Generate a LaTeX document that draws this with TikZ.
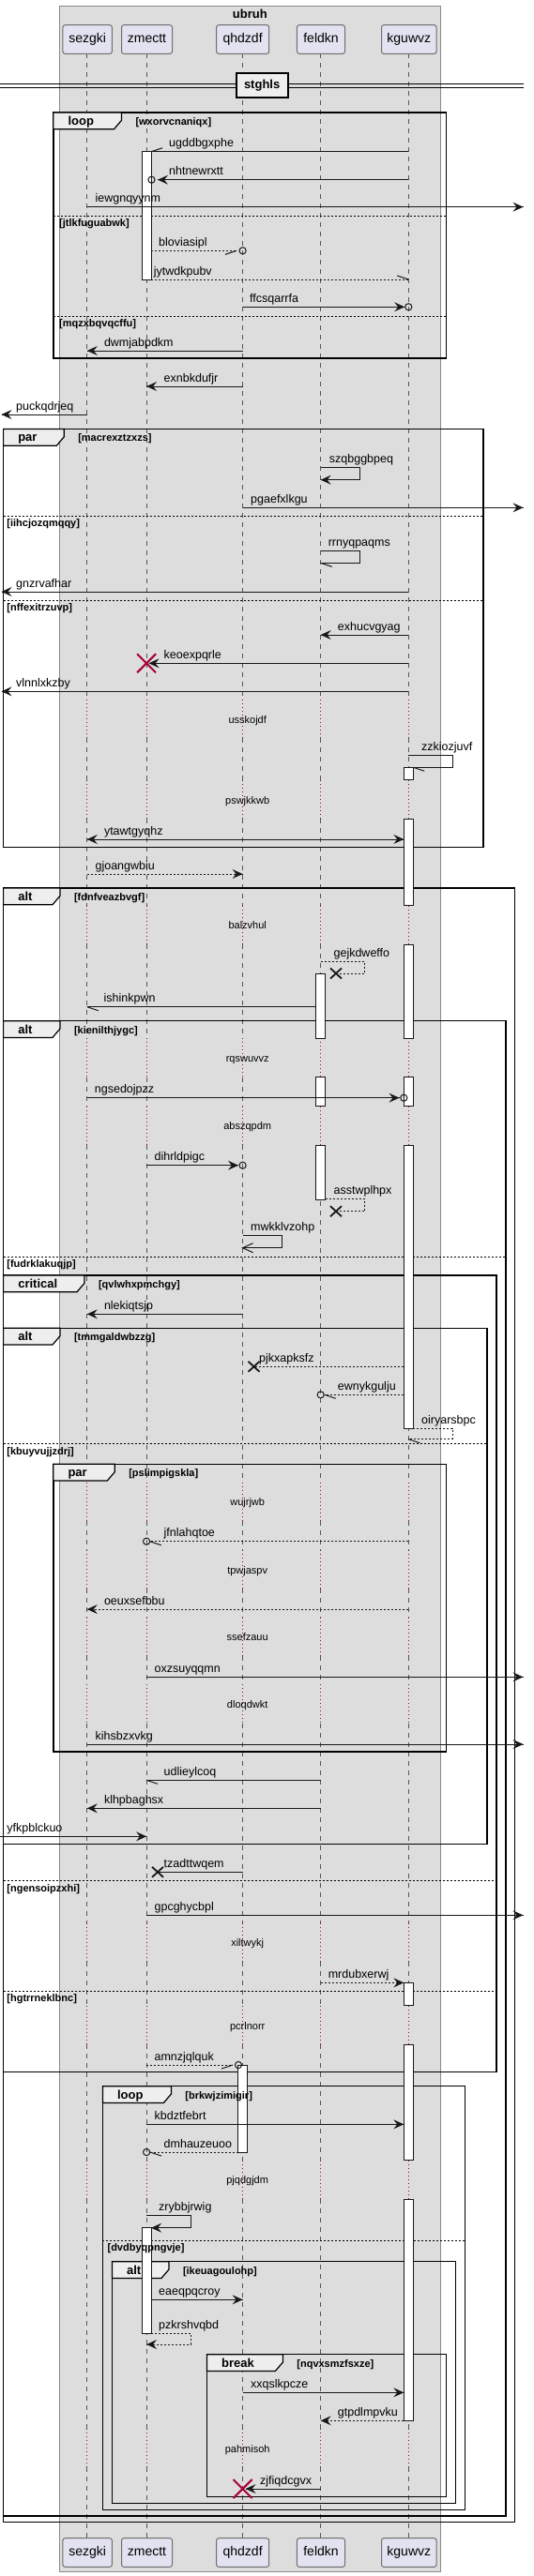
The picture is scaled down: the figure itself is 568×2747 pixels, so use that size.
\documentclass[tikz,border=0pt]{standalone}
\usepackage{fontspec}
\setmainfont{Liberation Sans}
\definecolor{ink}{HTML}{181818}
\definecolor{crim}{HTML}{A80036}
\definecolor{boxg}{HTML}{DDDDDD}
\definecolor{boxb}{HTML}{8A8A8A}
\definecolor{pfill}{HTML}{E2E2F0}
\definecolor{pbord}{HTML}{6E6E6E}
\definecolor{tabg}{HTML}{EEEEEE}
\definecolor{lifec}{HTML}{555555}
\tikzset{
  msg/.style={draw=ink, line width=1pt},
  dmsg/.style={msg, dash pattern=on 2pt off 2pt},
  lab/.style={font=\fontsize{12.5}{14}\selectfont, inner sep=0, anchor=base west},
  grd/.style={font=\bfseries\fontsize{11}{13}\selectfont, inner sep=0, anchor=base west},
  dlt/.style={font=\fontsize{11}{13}\selectfont, inner sep=0, anchor=base},
  tabt/.style={font=\bfseries\fontsize{13}{15}\selectfont, inner sep=0, anchor=base west},
  life/.style={draw=lifec, line width=0.8pt, dash pattern=on 5pt off 5pt},
  dly/.style={draw=crim, line width=0.9pt, dash pattern=on 1pt off 3pt},
  actb/.style={draw=ink, fill=white, line width=1pt},
  frm/.style={draw=black, line width=1.5pt},
  sepl/.style={draw=black, line width=0.8pt, dash pattern=on 2pt off 2pt},
  part/.style={draw=pbord, fill=pfill, rounded corners=2.5pt, line width=1pt,
    minimum height=30.6pt, inner sep=0, font=\fontsize{14}{16}\selectfont,
    text height=10pt, text depth=3pt}
}
% message helpers
\newcommand\MS[5]{\coordinate (#1a) at (#2,#4); \coordinate (#1b) at (#3,#4); \draw[#5] (#1a) -- (#1b);}
\newcommand\SM[7]{\coordinate (#1a) at (#2,#4); \coordinate (#1c) at (#3,#4); \coordinate (#1d) at (#3,#5); \coordinate (#1b) at (#6,#5); \draw[#7] (#1a) -- (#1c) -- (#1d) -- (#1b);}
\newcommand\ML[4]{\node[lab] (#1) at (#2,#3) {#4};}
\newcommand\HF[2]{\fill[ink] (#1) -- ++({-11*(#2)},-5) -- ++({4*(#2)},5) -- ++({-4*(#2)},5) -- cycle;}
\newcommand\HO[2]{\draw[ink,line width=1pt] (#1) ++({-11*(#2)},-5) -- (#1) -- ++({-11*(#2)},5);}
\newcommand\HH[3]{\draw[ink,line width=1pt] (#1) -- ++({-12*(#2)},{4*(#3)});}
\newcommand\CI[3]{\coordinate (#1) at (#2,#3); \draw[ink,line width=1pt] (#1) circle[radius=3.6pt];}
\newcommand\XS[1]{\draw[ink,line width=1.8pt] (#1) ++(-6,-5.5) -- ++(12,11) (#1) ++(-6,5.5) -- ++(12,-11);}
\newcommand\XR[3]{\coordinate (#1) at (#2,#3); \draw[crim,line width=2pt] (#1) ++(-10,-10) -- ++(20,20) (#1) ++(-10,10) -- ++(20,-20);}
\newcommand\DL[3]{\node[dlt] (#1) at (263.7,#2) {#3};}
% frame body: name x1 y1 x2 y2 tabR
\newcommand\FR[6]{%
  \draw[frm] (#2,#3) rectangle (#4,#5);
  \filldraw[fill=tabg, draw=black, line width=1.2pt] (#2,#3) -- (#6,#3) -- (#6,{#3+8.3}) -- ({#6-8},{#3+17.7}) -- (#2,{#3+17.7}) -- cycle;}
% frame texts: name x1 y1 tabR keyword guard
\newcommand\FT[6]{%
  \node[tabt] (#1k) at ({#2+15.5},{#3+13.3}) {#5};
  \node[grd] (#1g) at ({#4+14.8},{#3+13.3}) {#6};}
% separator line: name x1 x2 y ; label: name labelx y text
\newcommand\SP[4]{\coordinate (#1a) at (#2,#4); \coordinate (#1b) at (#3,#4); \draw[sepl] (#1a) -- (#1b);}
\newcommand\ST[4]{\node[grd] (#1l) at (#2,{#3+11.5}) {#4};}
\begin{document}
\begin{tikzpicture}[x=1pt,y=-1pt]
\useasboundingbox (0,0) rectangle (568,2747);
% box
\draw[draw=boxb, fill=boxg, line width=0.8pt] (63.3,6) rectangle (469.4,2742);
\node[font=\bfseries\fontsize{13}{15}\selectfont, anchor=base, inner sep=0] (title) at (266.3,19.7) {ubruh};
% lifelines
\foreach \lx in {92.8,156.1,258.6,341.7,435.3}{
  \foreach \a/\b in {57.3/745.8, 787.3/831.8, 873.3/965.5, 1007/1107.2, 1148.7/1179.5, 1221/1580.5, 1622/1652.8, 1694.3/1724.5, 1766/1796.2, 1837.7/2050.5, 2092/2138.8, 2180.3/2303.5, 2345/2589.8, 2631.3/2706.7}{
    \draw[life] (\lx,\a) -- (\lx,\b);}
  \foreach \a/\b in {745.8/787.3, 831.8/873.3, 965.5/1007, 1107.2/1148.7, 1179.5/1221, 1580.5/1622, 1652.8/1694.3, 1724.5/1766, 1796.2/1837.7, 2050.5/2092, 2138.8/2180.3, 2303.5/2345, 2589.8/2631.3}{
    \draw[dly] (\lx,\a) -- (\lx,\b);}
}
% participants
\foreach \n/\x/\w/\t in {S/93.15/52.5/sezgki, Z/156.5/54/zmectt, Q/258.65/56.1/qhdzdf, F/342/51.1/feldkn, K/435.8/58.6/kguwvz}{
  \node[part, minimum width=\w pt] (t\n) at (\x,42) {\t};
  \node[part, minimum width=\w pt] (b\n) at (\x,2722) {\t};
}
% divider
\coordinate (dvL1) at (0,89.3); \coordinate (dvR1) at (557.5,89.3);
\coordinate (dvL2) at (0,93.3); \coordinate (dvR2) at (557.5,93.3);
\draw[black, line width=1pt] (dvL1) -- (dvR1) (dvL2) -- (dvR2);
\node[draw, line width=2pt, fill=tabg, minimum width=54.7pt, minimum height=26.3pt, inner sep=0,
  font=\bfseries\fontsize{13}{15}\selectfont, text height=9.5pt, text depth=2.7pt] (div) at (279.15,90.85) {stghls};
% frames (lines and tabs)
\FR{fa}{56.8}{120}{475.5}{382}{129.5}
\FR{fb}{3.6}{457.5}{515}{903.7}{68.3}
\FR{fc}{3.6}{947}{548.6}{2689.7}{64}
\FR{fd}{3.6}{1088.7}{538.8}{2683}{64}
\FR{fe}{3.6}{1360}{528.8}{2209.7}{90}
\FR{ff}{3.6}{1416.3}{519}{1966.3}{64}
\FR{fg}{56.8}{1561.3}{475.5}{1868}{122.3}
\FR{fh}{109.4}{2224.7}{495.3}{2676.3}{182.4}
\FR{fi}{119.4}{2411.7}{485.6}{2669.7}{180}
\FR{fj}{220.5}{2510.7}{475.5}{2662.3}{301.4}
% separators
\SP{s1}{56.8}{475.5}{230.3}
\SP{s2}{56.8}{475.5}{337}
\SP{s3}{3.6}{515}{550.3}
\SP{s4}{3.6}{515}{640}
\SP{s5}{3.6}{538.8}{1340}
\SP{s6}{3.6}{519}{1539.7}
\SP{s7}{3.6}{528.8}{2005.7}
\SP{s8}{3.6}{528.8}{2123}
\SP{s9}{109.4}{495.3}{2389}
% activations
\foreach \a/\b in {161.7/298.7, 2375.7/2488.3}{\draw[actb] (151.1,\a) rectangle (161.1,\b);}
\foreach \a/\b in {818.3/831.8, 873.3/965.5, 1007/1107.2, 1148.7/1179.5, 1221/1523, 2114.3/2138.8, 2180.3/2303.5, 2345/2581.3}{\draw[actb] (430.3,\a) rectangle (440.3,\b);}
\foreach \a/\b in {1038.7/1107.2, 1148.7/1179.5, 1221/1279.3}{\draw[actb] (336.7,\a) rectangle (346.7,\b);}
\draw[actb] (253.9,2202) rectangle (263.3,2295);
% frame texts
\FT{fa}{56.8}{120}{129.5}{loop}{[wxorvcnaniqx]}
\FT{fb}{3.6}{457.5}{68.3}{par}{[macrexztzxzs]}
\FT{fc}{3.6}{947}{64}{alt}{[fdnfveazbvgf]}
\FT{fd}{3.6}{1088.7}{64}{alt}{[kienilthjygc]}
\FT{fe}{3.6}{1360}{90}{critical}{[qvlwhxpmchgy]}
\FT{ff}{3.6}{1416.3}{64}{alt}{[tmmgaldwbzzg]}
\FT{fg}{56.8}{1561.3}{122.3}{par}{[pslimpigskla]}
\FT{fh}{109.4}{2224.7}{182.4}{loop}{[brkwjzimigir]}
\FT{fi}{119.4}{2411.7}{180}{alt}{[ikeuagoulohp]}
\FT{fj}{220.5}{2510.7}{301.4}{break}{[nqvxsmzfsxze]}
\ST{s1}{63}{230.3}{[jtlkfuguabwk]}
\ST{s2}{63}{337}{[mqzxbqvqcffu]}
\ST{s3}{7.2}{550.3}{[iihcjozqmqqy]}
\ST{s4}{7.2}{640}{[nffexitrzuvp]}
\ST{s5}{7.2}{1340}{[fudrklakuqjp]}
\ST{s6}{7.2}{1539.7}{[kbuyvujjzdrj]}
\ST{s7}{7.2}{2005.7}{[ngensoipzxhi]}
\ST{s8}{7.2}{2123}{[hgtrrneklbnc]}
\ST{s9}{114.4}{2389}{[dvdbyqpngvje]}
% messages
\MS{m1}{435.3}{161.1}{161.7}{msg}\HH{m1b}{-1}{-1}\ML{m1l}{180}{156.7}{ugddbgxphe}
\MS{m2}{435.3}{168}{191.7}{msg}\HF{m2b}{-1}\CI{m2o}{161.5}{191.7}\ML{m2l}{180}{186.7}{nhtnewrxtt}
\MS{m3}{92.8}{557.5}{220.7}{msg}\HF{m3b}{1}\ML{m3l}{101.4}{215.7}{iewgnqyynm}
\MS{m4}{161.1}{252}{267.3}{dmsg}\HH{m4b}{1}{1}\CI{m4o}{258.6}{267.3}\ML{m4l}{169}{262.3}{bloviasipl}
\MS{m5}{161.1}{435.3}{298}{dmsg}\HH{m5b}{1}{-1}\ML{m5l}{163.7}{293}{jytwdkpubv}
\MS{m6}{258.6}{431.2}{327.3}{msg}\HF{m6b}{1}\CI{m6o}{435.3}{327.3}\ML{m6l}{266}{322.3}{ffcsqarrfa}
\MS{m7}{258.6}{92.8}{374}{msg}\HF{m7b}{-1}\ML{m7l}{110.8}{369}{dwmjabpdkm}
\MS{m8}{258.6}{156.1}{412}{msg}\HF{m8b}{-1}\ML{m8l}{174.5}{407}{exnbkdufjr}
\MS{m9}{92.8}{1.5}{442}{msg}\HF{m9b}{-1}\ML{m9l}{17}{437}{puckqdrjeq}
\SM{m10}{341.7}{383.8}{498.7}{511.7}{341.7}{msg}\HF{m10b}{-1}\ML{m10l}{350.7}{493.7}{szqbggbpeq}
\MS{m11}{258.6}{557.5}{541.3}{msg}\HF{m11b}{1}\ML{m11l}{267}{536.3}{pgaefxlkgu}
\SM{m12}{341.7}{383.8}{587.7}{600.3}{341.7}{msg}\HH{m12b}{-1}{1}\ML{m12l}{349.6}{582.7}{rrnyqpaqms}
\MS{m13}{435.3}{1.5}{631}{msg}\HF{m13b}{-1}\ML{m13l}{17}{626}{gnzrvafhar}
\MS{m14}{435.3}{341.7}{677}{msg}\HF{m14b}{-1}\ML{m14l}{359.7}{672}{exhucvgyag}
\MS{m15}{435.3}{158.5}{707.3}{msg}\HF{m15b}{-1}\XR{m15x}{156.1}{707.3}\ML{m15l}{174.5}{702.3}{keoexpqrle}
\MS{m16}{435.3}{1.5}{737.3}{msg}\HF{m16b}{-1}\ML{m16l}{17}{732.3}{vlnnlxkzby}
\DL{d1}{771.1}{usskojdf}
\SM{m17}{435.3}{482}{805.7}{818.3}{440.3}{msg}\HH{m17b}{-1}{1}\ML{m17l}{449}{800.7}{zzkiozjuvf}
\DL{d2}{857.1}{pswjkkwb}
\MS{m18}{92.8}{430.3}{895}{msg}\HF{m18a}{-1}\HF{m18b}{1}\ML{m18l}{110.8}{890}{ytawtgyqhz}
\MS{m19}{92.8}{258.6}{932}{dmsg}\HF{m19b}{1}\ML{m19l}{101.4}{927}{gjoangwbiu}
\DL{d3}{990.8}{balzvhul}
\SM{m20}{341.7}{388.5}{1025.3}{1038}{358}{dmsg}\XS{m20b}\ML{m20l}{355.4}{1020.3}{gejkdweffo}
\MS{m21}{336.7}{92.8}{1073.7}{msg}\HH{m21b}{-1}{1}\ML{m21l}{110.4}{1068.7}{ishinkpwn}
\DL{d4}{1132.5}{rqswuvvz}
\MS{m22}{92.8}{425.5}{1170.7}{msg}\HF{m22b}{1}\CI{m22o}{430.3}{1170.7}\ML{m22l}{100.7}{1165.7}{ngsedojpzz}
\DL{d5}{1204.8}{abszqpdm}
\MS{m23}{156.1}{254}{1242.7}{msg}\HF{m23b}{1}\CI{m23o}{258.6}{1242.7}\ML{m23l}{164.4}{1237.7}{dihrldpigc}
\SM{m24}{346.7}{388.5}{1278.3}{1291.7}{358}{dmsg}\XS{m24b}\ML{m24l}{355.4}{1273.3}{asstwplhpx}
\SM{m25}{258.6}{300.4}{1317.3}{1330.7}{258.6}{msg}\HO{m25b}{-1}\ML{m25l}{267}{1312.3}{mwkklvzohp}
\MS{m26}{258.6}{92.8}{1401.3}{msg}\HF{m26b}{-1}\ML{m26l}{110.8}{1396.3}{nlekiqtsjp}
\MS{m27}{430.3}{270.5}{1457.3}{dmsg}\XS{m27b}\ML{m27l}{276}{1452.3}{pjkxapksfz}
\MS{m28}{430.3}{345.8}{1487.3}{dmsg}\HH{m28b}{-1}{1}\CI{m28o}{341.7}{1487.3}\ML{m28l}{359.7}{1482.3}{ewnykgulju}
\SM{m29}{440.3}{482}{1523}{1534.7}{435.3}{dmsg}\HH{m29b}{-1}{1}\ML{m29l}{449}{1518}{oiryarsbpc}
\DL{d6}{1605.8}{wujrjwb}
\MS{m30}{435.3}{159.7}{1643.7}{dmsg}\HH{m30b}{-1}{1}\CI{m30o}{156.1}{1643.7}\ML{m30l}{174.5}{1638.7}{jfnlahqtoe}
\DL{d7}{1678.1}{tpwjaspv}
\MS{m31}{435.3}{92.8}{1716}{dmsg}\HF{m31b}{-1}\ML{m31l}{110.8}{1711}{oeuxsefbbu}
\DL{d8}{1749.8}{ssefzauu}
\MS{m32}{156.1}{557.5}{1788.3}{msg}\HF{m32b}{1}\ML{m32l}{164.4}{1783.3}{oxzsuyqqmn}
\DL{d9}{1821.5}{dloqdwkt}
\MS{m33}{92.8}{557.5}{1860}{msg}\HF{m33b}{1}\ML{m33l}{101.4}{1855}{kihsbzxvkg}
\MS{m34}{341.7}{156.1}{1898.3}{msg}\HH{m34b}{-1}{1}\ML{m34l}{174.5}{1893.3}{udlieylcoq}
\MS{m35}{341.7}{92.8}{1928.3}{msg}\HF{m35b}{-1}\ML{m35l}{110.8}{1923.3}{klhpbaghsx}
\MS{m36}{0}{156.1}{1958.3}{msg}\HF{m36b}{1}\ML{m36l}{7.2}{1953.3}{yfkpblckuo}
\MS{m37}{258.6}{168}{1996.3}{msg}\XS{m37b}\ML{m37l}{174.5}{1991.3}{tzadttwqem}
\MS{m38}{156.1}{557.5}{2042.3}{msg}\HF{m38b}{1}\ML{m38l}{164.4}{2037.3}{gpcghycbpl}
\DL{d10}{2075.8}{xiltwykj}
\MS{m39}{341.7}{430.3}{2114.3}{dmsg}\HF{m39b}{1}\ML{m39l}{349.6}{2109.3}{mrdubxerwj}
\DL{d11}{2164.1}{pcrlnorr}
\MS{m40}{156.1}{248}{2202}{dmsg}\HH{m40b}{1}{1}\CI{m40o}{254}{2202}\ML{m40l}{164.4}{2197}{amnzjqlquk}
\MS{m41}{156.1}{430.3}{2265.3}{msg}\HF{m41b}{1}\ML{m41l}{164.4}{2260.3}{kbdztfebrt}
\MS{m42}{253.9}{160}{2295}{dmsg}\HH{m42b}{-1}{1}\CI{m42o}{156.1}{2295}\ML{m42l}{174.5}{2290}{dmhauzeuoo}
\DL{d12}{2328.8}{pjqdgjdm}
\SM{m43}{156.1}{203.2}{2362.3}{2375.7}{161.1}{msg}\HF{m43b}{-1}\ML{m43l}{169}{2357.3}{zrybbjrwig}
\MS{m44}{161.1}{258.6}{2452.3}{msg}\HF{m44b}{1}\ML{m44l}{169}{2447.3}{eaeqpqcroy}
\SM{m45}{161.1}{203.2}{2488.3}{2500}{156.1}{dmsg}\HF{m45b}{-1}\ML{m45l}{169}{2483.3}{pzkrshvqbd}
\MS{m46}{258.6}{430.3}{2551.3}{msg}\HF{m46b}{1}\ML{m46l}{267}{2546.3}{xxqslkpcze}
\MS{m47}{430.3}{341.7}{2581.3}{dmsg}\HF{m47b}{-1}\ML{m47l}{359.7}{2576.3}{gtpdlmpvku}
\DL{d13}{2615.1}{pahmisoh}
\MS{m48}{341.7}{261.6}{2654}{msg}\HF{m48b}{-1}\XR{m48x}{258.6}{2654}\ML{m48l}{277}{2649}{zjfiqdcgvx}
\end{tikzpicture}
\end{document}
